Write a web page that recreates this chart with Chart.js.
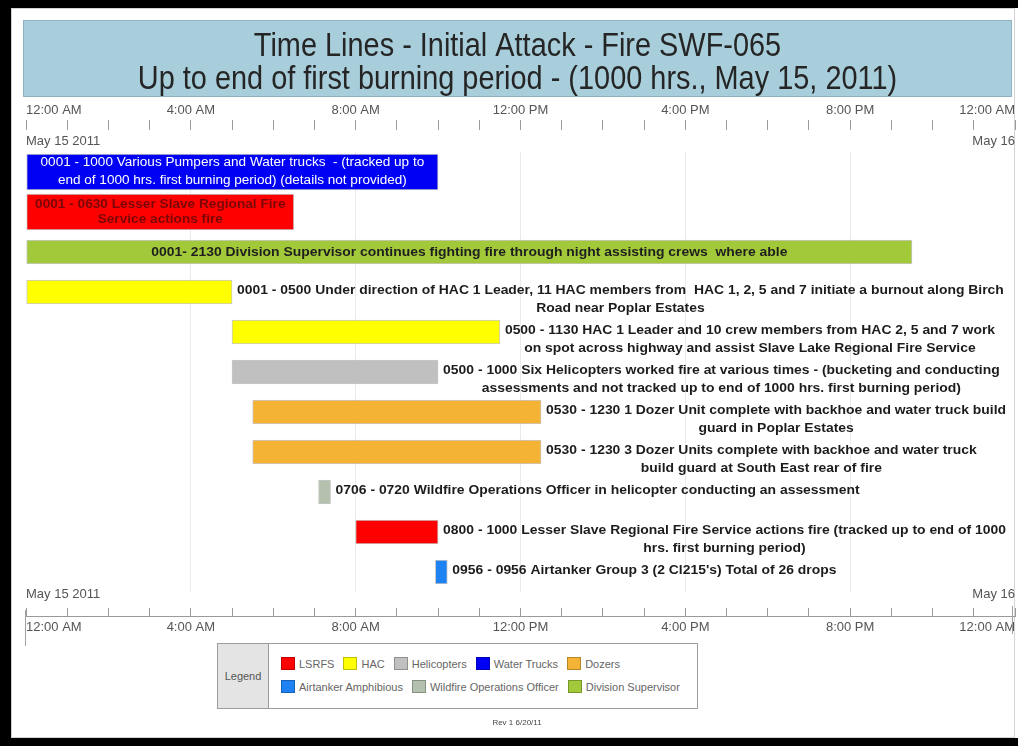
<!DOCTYPE html>
<html>
<head>
<meta charset="utf-8">
<title>Time Lines - Initial Attack - Fire SWF-065</title>
<script src="https://cdn.jsdelivr.net/npm/chart.js@4.4.1/dist/chart.umd.min.js"></script>
<style>
  html, body { margin: 0; padding: 0; background: #fff; }
  #page { position: relative; width: 1018px; height: 746px; overflow: hidden; font-family: "Liberation Sans", Arial, sans-serif; }
  #frame { position: absolute; left: 0; top: 0; width: 1007px; height: 730px; border-left: 11px solid #000; border-top: 8px solid #000; border-bottom: 8px solid #000; }
  #panel { position: absolute; left: 11px; top: 8px; width: 1004px; height: 730px; border: 1px solid #d4d4d4; box-sizing: border-box; }
  #timeline { position: absolute; left: 0; top: 0; }
  #legend { position: absolute; left: 217px; top: 643px; width: 481px; height: 66px; border: 1px solid #9c9c9c; box-sizing: border-box; display: flex; background: #fff; }
  #legend .head { width: 50px; background: #e4e4e4; border-right: 1px solid #9c9c9c; font-size: 11px; color: #555; display: flex; align-items: center; justify-content: center; }
  #legend .rows { padding: 8px 0 0 12px; }
  #legend .row { display: flex; height: 23px; align-items: center; }
  #legend .item { display: flex; align-items: center; margin-right: 9px; font-size: 11px; color: #666; white-space: nowrap; }
  #legend .swatch { width: 14px; height: 13px; border: 1px solid rgba(0,0,0,0.25); margin-right: 4px; box-sizing: border-box; }
  #rev { position: absolute; left: 467px; width: 100px; top: 718px; text-align: center; font-size: 8px; color: #444; }
</style>
</head>
<body>
<div id="page">
  <div id="frame"></div>
  <div id="panel"></div>
  <canvas id="timeline" width="1018" height="746"></canvas>
  <div id="legend"><div class="head">Legend</div><div class="rows" id="legendRows"></div></div>
  <div id="rev">Rev 1 6/20/11</div>
</div>
<script>
// Timeline rows, top to bottom (each label split into its printed lines)
const taskLines = [
    ['0001 - 1000 Various Pumpers and Water trucks  - (tracked up to', 'end of 1000 hrs. first burning period) (details not provided)'],
    ['0001 - 0630 Lesser Slave Regional Fire', 'Service actions fire'],
    ['0001- 2130 Division Supervisor continues fighting fire through night assisting crews  where able'],
    ['0001 - 0500 Under direction of HAC 1 Leader, 11 HAC members from  HAC 1, 2, 5 and 7 initiate a burnout along Birch', 'Road near Poplar Estates'],
    ['0500 - 1130 HAC 1 Leader and 10 crew members from HAC 2, 5 and 7 work', 'on spot across highway and assist Slave Lake Regional Fire Service'],
    ['0500 - 1000 Six Helicopters worked fire at various times - (bucketing and conducting', 'assessments and not tracked up to end of 1000 hrs. first burning period)'],
    ['0530 - 1230 1 Dozer Unit complete with backhoe and water truck build', 'guard in Poplar Estates'],
    ['0530 - 1230 3 Dozer Units complete with backhoe and water truck', 'build guard at South East rear of fire'],
    ['0706 - 0720 Wildfire Operations Officer in helicopter conducting an assessment'],
    ['0800 - 1000 Lesser Slave Regional Fire Service actions fire (tracked up to end of 1000', 'hrs. first burning period)'],
    ['0956 - 0956 Airtanker Group 3 (2 Cl215\'s) Total of 26 drops'],
];
const startTimes = ['0001', '0001', '0001', '0001', '0500', '0500', '0530', '0530', '0706', '0800', '0956'];
const endTimes = ['1000', '0630', '2130', '0500', '1130', '1000', '1230', '1230', '0720', '1000', '0956'];
const taskResource = ['Water Trucks', 'LSRFS', 'Division Supervisor', 'HAC', 'HAC', 'Helicopters',
    'Dozers', 'Dozers', 'Wildfire Operations Officer', 'LSRFS', 'Airtanker Amphibious'];

// Resource types for the legend
const resourceNames = ['LSRFS', 'HAC', 'Helicopters', 'Water Trucks', 'Dozers',
    'Airtanker Amphibious', 'Wildfire Operations Officer', 'Division Supervisor'];
const resourceColors = ['#ff0000', '#ffff00', '#c0c0c0', '#0000f4', '#f5b335',
    '#1f82f2', '#b3c1ae', '#a2c93a'];

// Axis labels
const tickHours = [0, 4, 8, 12, 16, 20, 24];
const tickLabels = ['12:00 AM', '4:00 AM', '8:00 AM', '12:00 PM', '4:00 PM', '8:00 PM', '12:00 AM'];
const dateLabels = ['May 15 2011', 'May 16'];

const titleLines = ['Time Lines - Initial Attack - Fire SWF-065',
    'Up to end of first burning period - (1000 hrs., May 15, 2011)'];

// Styling
const FONT = '"Liberation Sans", Arial, sans-serif';
const TALL_ROWS = [0, 1];
const INSIDE_STYLE = {
    0: { font: '12px ' + FONT, color: '#ffffff', sx: 1.13, gap: 18 },
    1: { font: 'bold 13px ' + FONT, color: '#7a0606', sx: 1.05, gap: 15 },
    2: { font: 'bold 13px ' + FONT, color: '#1e1e1e', sx: 1.07, gap: 18 },
};
const LEGEND_ROW_SPLIT = 5;

Chart.defaults.font.family = FONT;

const toHours = t => Number(t.slice(0, 2)) + Number(t.slice(2)) / 60;
const rowColors = taskResource.map(r => resourceColors[resourceNames.indexOf(r)]);
const rowData = keep => taskLines.map((_, i) => keep(i) ? [toHours(startTimes[i]), toHours(endTimes[i])] : null);

function hourLabel(v) {
    const k = tickHours.indexOf(v);
    return k >= 0 ? tickLabels[k] : '';
}

function drawStretched(ctx, text, x, y, sx, align) {
    ctx.save();
    ctx.translate(x, y);
    ctx.scale(sx, 1);
    ctx.textAlign = align;
    ctx.fillText(text, 0, 0);
    ctx.restore();
}

// fixed axis band heights; labels may sit flush with the plot edges
const fixHeight = h => scale => {
    scale.height = h;
    scale.paddingLeft = 0;
    scale.paddingRight = 0;
};

// Title banner across the top
const titleBanner = {
    id: 'titleBanner',
    beforeDraw(chart) {
        const { ctx, chartArea } = chart;
        const left = chartArea.left - 3, right = chartArea.right - 3;
        ctx.save();
        ctx.fillStyle = '#a8cedb';
        ctx.fillRect(left, 20, right - left, 77);
        ctx.strokeStyle = '#8eb2bf';
        ctx.lineWidth = 1;
        ctx.strokeRect(left + 0.5, 20.5, right - left - 1, 76);
        ctx.fillStyle = '#252525';
        ctx.font = '34px ' + FONT;
        ctx.textBaseline = 'alphabetic';
        titleLines.forEach((t, k) => drawStretched(ctx, t, (left + right) / 2, 56 + k * 33, 0.85, 'center'));
        ctx.restore();
    }
};

// Task descriptions inside or beside each bar
const barText = {
    id: 'barText',
    afterDatasetsDraw(chart) {
        const { ctx, chartArea } = chart;
        ctx.save();
        ctx.textBaseline = 'middle';
        taskLines.forEach((lines, i) => {
            const bar = chart.getDatasetMeta(TALL_ROWS.includes(i) ? 0 : 1).data[i];
            const left = Math.min(bar.base, bar.x);
            const right = Math.max(bar.base, bar.x);
            const inside = INSIDE_STYLE[i];
            if (inside) {
                ctx.font = inside.font;
                ctx.fillStyle = inside.color;
                const y0 = bar.y - (lines.length - 1) * inside.gap / 2;
                lines.forEach((l, k) => drawStretched(ctx, l, (left + right) / 2, y0 + k * inside.gap, inside.sx, 'center'));
                return;
            }
            ctx.font = 'bold 13px ' + FONT;
            ctx.fillStyle = '#1c1c1c';
            const blockLeft = right + 5;
            const avail = chartArea.right - 5 - blockLeft;
            const maxW = Math.max(...lines.map(l => ctx.measureText(l).width));
            const sx = Math.min(1.07, avail / maxW);
            const cx = blockLeft + maxW * sx / 2;
            lines.forEach((l, k) => drawStretched(ctx, l, cx, bar.y - 1.5 + k * 18, sx, 'center'));
        });
        ctx.restore();
    },
    afterDraw(chart) {
        // end caps of the bottom time axis
        const s = chart.scales.x2;
        const ctx = chart.ctx;
        ctx.save();
        ctx.strokeStyle = '#a0a0a0';
        ctx.lineWidth = 1;
        ctx.beginPath();
        ctx.moveTo(Math.round(s.left) - 0.5, s.top - 6);
        ctx.lineTo(Math.round(s.left) - 0.5, s.bottom);
        ctx.moveTo(Math.round(s.right) - 2.5, s.top - 10);
        ctx.lineTo(Math.round(s.right) - 2.5, s.bottom - 12);
        ctx.stroke();
        ctx.restore();
    }
};

const barStyle = {
    xAxisID: 'x',
    backgroundColor: rowColors,
    borderColor: 'rgba(0,0,0,0.22)',
    borderWidth: 1,
    borderSkipped: false,
    grouped: false,
    minBarLength: 12,
    clip: false,
};

const timeScale = {
    type: 'linear',
    min: 0,
    max: 24,
    ticks: {
        stepSize: 1,
        autoSkip: false,
        maxRotation: 0,
        minRotation: 0,
        align: 'inner',
        color: '#555',
        font: { size: 13 },
        callback: v => hourLabel(v),
    },
};

const dateScale = (position, padding, height, mirror) => ({
    type: 'linear',
    position: position,
    min: 0,
    max: 24,
    weight: 0,
    grid: { display: false, drawTicks: false },
    border: { display: false },
    afterBuildTicks: scale => { scale.ticks = [{ value: 0 }, { value: 24 }]; },
    afterFit: fixHeight(height),
    ticks: {
        autoSkip: false,
        maxRotation: 0,
        align: 'inner',
        mirror: mirror,
        padding: padding,
        color: '#555',
        font: { size: 13 },
        callback: v => (v === 0 ? dateLabels[0] : dateLabels[1]),
    },
});

const timelineChart = new Chart(document.getElementById('timeline'), {
    type: 'bar',
    data: {
        labels: taskLines,
        datasets: [
            { ...barStyle, label: 'tall', data: rowData(i => TALL_ROWS.includes(i)), barThickness: 36 },
            { ...barStyle, label: 'normal', data: rowData(i => !TALL_ROWS.includes(i)), barThickness: 24 },
        ],
    },
    options: {
        indexAxis: 'y',
        responsive: false,
        devicePixelRatio: 1,
        animation: false,
        layout: { padding: { top: 98, left: 26, right: 3, bottom: 100 } },
        plugins: { legend: { display: false }, tooltip: { enabled: false }, title: { display: false } },
        scales: {
            y: { type: 'category', display: false, offset: true },
            x: {
                ...timeScale,
                position: 'top',
                weight: 1,
                afterFit: fixHeight(32),
                border: { display: false },
                grid: {
                    drawOnChartArea: true,
                    tickLength: 10,
                    tickColor: '#9a9a9a',
                    color: c => (c.tick && c.tick.value % 4 === 0 && c.tick.value > 0 && c.tick.value < 24) ? '#ebebeb' : 'rgba(0,0,0,0)',
                },
                ticks: { ...timeScale.ticks, padding: 2 },
            },
            xDateT: dateScale('top', 3, 22, false),
            xDateB: dateScale('bottom', -10, 24, true),
            x2: {
                ...timeScale,
                position: 'bottom',
                weight: 1,
                afterFit: fixHeight(30),
                border: { display: true, color: '#9a9a9a' },
                grid: { drawOnChartArea: false, tickLength: -8, tickColor: '#9a9a9a' },
                ticks: { ...timeScale.ticks, padding: 12 },
            },
        },
    },
    plugins: [titleBanner, barText],
});

// Legend boxes
const legendRows = document.getElementById('legendRows');
[resourceNames.slice(0, LEGEND_ROW_SPLIT), resourceNames.slice(LEGEND_ROW_SPLIT)].forEach(names => {
    const row = document.createElement('div');
    row.className = 'row';
    names.forEach(name => {
        const item = document.createElement('div');
        item.className = 'item';
        const sw = document.createElement('span');
        sw.className = 'swatch';
        sw.style.background = resourceColors[resourceNames.indexOf(name)];
        item.appendChild(sw);
        item.appendChild(document.createTextNode(name));
        row.appendChild(item);
    });
    legendRows.appendChild(row);
});
</script>
</body>
</html>
